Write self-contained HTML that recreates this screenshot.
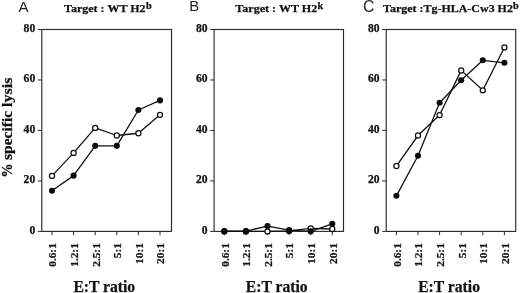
<!DOCTYPE html>
<html><head><meta charset="utf-8"><title>chart</title>
<style>html,body{margin:0;padding:0;background:#fff;}svg{display:block;will-change:transform;filter:grayscale(1);}</style></head>
<body>
<svg width="520" height="293" viewBox="0 0 520 293">
<rect width="520" height="293" fill="#fff"/>
<g font-family="Liberation Serif, serif" font-weight="bold" fill="#111" stroke="#111" stroke-width="0.25">
<rect x="41.8" y="29.5" width="129.70" height="201.90" fill="none" stroke="#2a2a2a" stroke-width="1.15"/>
<line x1="37.80" y1="231.40" x2="41.80" y2="231.40" stroke="#2a2a2a" stroke-width="1"/>
<text x="35.20" y="233.55" font-size="11.6" text-anchor="end">0</text>
<line x1="37.80" y1="180.93" x2="41.80" y2="180.93" stroke="#2a2a2a" stroke-width="1"/>
<text x="35.20" y="183.08" font-size="11.6" text-anchor="end">20</text>
<line x1="37.80" y1="130.45" x2="41.80" y2="130.45" stroke="#2a2a2a" stroke-width="1"/>
<text x="35.20" y="132.60" font-size="11.6" text-anchor="end">40</text>
<line x1="37.80" y1="79.97" x2="41.80" y2="79.97" stroke="#2a2a2a" stroke-width="1"/>
<text x="35.20" y="82.12" font-size="11.6" text-anchor="end">60</text>
<line x1="37.80" y1="29.50" x2="41.80" y2="29.50" stroke="#2a2a2a" stroke-width="1"/>
<text x="35.20" y="31.65" font-size="11.6" text-anchor="end">80</text>
<line x1="52.00" y1="231.4" x2="52.00" y2="235.20" stroke="#2a2a2a" stroke-width="1"/>
<text transform="translate(56.35,243.2) rotate(-90)" font-size="11.3" text-anchor="end">0.6:1</text>
<line x1="73.60" y1="231.4" x2="73.60" y2="235.20" stroke="#2a2a2a" stroke-width="1"/>
<text transform="translate(77.95,243.2) rotate(-90)" font-size="11.3" text-anchor="end">1.2:1</text>
<line x1="95.20" y1="231.4" x2="95.20" y2="235.20" stroke="#2a2a2a" stroke-width="1"/>
<text transform="translate(99.55,243.2) rotate(-90)" font-size="11.3" text-anchor="end">2.5:1</text>
<line x1="116.80" y1="231.4" x2="116.80" y2="235.20" stroke="#2a2a2a" stroke-width="1"/>
<text transform="translate(121.15,243.2) rotate(-90)" font-size="11.3" text-anchor="end">5:1</text>
<line x1="138.40" y1="231.4" x2="138.40" y2="235.20" stroke="#2a2a2a" stroke-width="1"/>
<text transform="translate(142.75,243.2) rotate(-90)" font-size="11.3" text-anchor="end">10:1</text>
<line x1="160.00" y1="231.4" x2="160.00" y2="235.20" stroke="#2a2a2a" stroke-width="1"/>
<text transform="translate(164.35,243.2) rotate(-90)" font-size="11.3" text-anchor="end">20:1</text>
<polyline fill="none" stroke="#111" stroke-width="1.3" stroke-linejoin="round" points="52.00,175.88 73.60,152.91 95.20,127.93 116.80,135.50 138.40,133.23 160.00,114.80"/>
<polyline fill="none" stroke="#111" stroke-width="1.3" stroke-linejoin="round" points="52.00,190.77 73.60,175.63 95.20,145.84 116.80,145.84 138.40,110.01 160.00,100.42"/>
<circle cx="52.00" cy="175.88" r="2.55" fill="#fff" stroke="#111" stroke-width="1.25"/>
<circle cx="73.60" cy="152.91" r="2.55" fill="#fff" stroke="#111" stroke-width="1.25"/>
<circle cx="95.20" cy="127.93" r="2.55" fill="#fff" stroke="#111" stroke-width="1.25"/>
<circle cx="116.80" cy="135.50" r="2.55" fill="#fff" stroke="#111" stroke-width="1.25"/>
<circle cx="138.40" cy="133.23" r="2.55" fill="#fff" stroke="#111" stroke-width="1.25"/>
<circle cx="160.00" cy="114.80" r="2.55" fill="#fff" stroke="#111" stroke-width="1.25"/>
<circle cx="52.00" cy="190.77" r="3.05" fill="#0a0a0a" stroke="none"/>
<circle cx="73.60" cy="175.63" r="3.05" fill="#0a0a0a" stroke="none"/>
<circle cx="95.20" cy="145.84" r="3.05" fill="#0a0a0a" stroke="none"/>
<circle cx="116.80" cy="145.84" r="3.05" fill="#0a0a0a" stroke="none"/>
<circle cx="138.40" cy="110.01" r="3.05" fill="#0a0a0a" stroke="none"/>
<circle cx="160.00" cy="100.42" r="3.05" fill="#0a0a0a" stroke="none"/>
<text x="64.0" y="12.3" font-size="11.3" textLength="81.6" lengthAdjust="spacingAndGlyphs">Target : WT H2</text>
<text x="146.0" y="9.1" font-size="9.5" textLength="5.7" lengthAdjust="spacingAndGlyphs">b</text>
<text x="73.4" y="292.2" font-size="16" textLength="61.8" lengthAdjust="spacingAndGlyphs">E:T ratio</text>
<rect x="214.1" y="29.5" width="129.40" height="201.90" fill="none" stroke="#2a2a2a" stroke-width="1.15"/>
<line x1="210.10" y1="231.40" x2="214.10" y2="231.40" stroke="#2a2a2a" stroke-width="1"/>
<text x="207.50" y="233.55" font-size="11.6" text-anchor="end">0</text>
<line x1="210.10" y1="180.93" x2="214.10" y2="180.93" stroke="#2a2a2a" stroke-width="1"/>
<text x="207.50" y="183.08" font-size="11.6" text-anchor="end">20</text>
<line x1="210.10" y1="130.45" x2="214.10" y2="130.45" stroke="#2a2a2a" stroke-width="1"/>
<text x="207.50" y="132.60" font-size="11.6" text-anchor="end">40</text>
<line x1="210.10" y1="79.97" x2="214.10" y2="79.97" stroke="#2a2a2a" stroke-width="1"/>
<text x="207.50" y="82.12" font-size="11.6" text-anchor="end">60</text>
<line x1="210.10" y1="29.50" x2="214.10" y2="29.50" stroke="#2a2a2a" stroke-width="1"/>
<text x="207.50" y="31.65" font-size="11.6" text-anchor="end">80</text>
<line x1="224.30" y1="231.4" x2="224.30" y2="235.20" stroke="#2a2a2a" stroke-width="1"/>
<text transform="translate(228.65,243.2) rotate(-90)" font-size="11.3" text-anchor="end">0.6:1</text>
<line x1="245.90" y1="231.4" x2="245.90" y2="235.20" stroke="#2a2a2a" stroke-width="1"/>
<text transform="translate(250.25,243.2) rotate(-90)" font-size="11.3" text-anchor="end">1.2:1</text>
<line x1="267.50" y1="231.4" x2="267.50" y2="235.20" stroke="#2a2a2a" stroke-width="1"/>
<text transform="translate(271.85,243.2) rotate(-90)" font-size="11.3" text-anchor="end">2.5:1</text>
<line x1="289.10" y1="231.4" x2="289.10" y2="235.20" stroke="#2a2a2a" stroke-width="1"/>
<text transform="translate(293.45,243.2) rotate(-90)" font-size="11.3" text-anchor="end">5:1</text>
<line x1="310.70" y1="231.4" x2="310.70" y2="235.20" stroke="#2a2a2a" stroke-width="1"/>
<text transform="translate(315.05,243.2) rotate(-90)" font-size="11.3" text-anchor="end">10:1</text>
<line x1="332.30" y1="231.4" x2="332.30" y2="235.20" stroke="#2a2a2a" stroke-width="1"/>
<text transform="translate(336.65,243.2) rotate(-90)" font-size="11.3" text-anchor="end">20:1</text>
<polyline fill="none" stroke="#111" stroke-width="1.3" stroke-linejoin="round" points="224.30,231.40 245.90,231.40 267.50,231.40 289.10,230.90 310.70,228.37 332.30,229.00"/>
<polyline fill="none" stroke="#111" stroke-width="1.3" stroke-linejoin="round" points="224.30,231.15 245.90,231.15 267.50,226.10 289.10,230.14 310.70,231.40 332.30,223.83"/>
<circle cx="224.30" cy="231.40" r="2.55" fill="#fff" stroke="#111" stroke-width="1.25"/>
<circle cx="245.90" cy="231.40" r="2.55" fill="#fff" stroke="#111" stroke-width="1.25"/>
<circle cx="267.50" cy="231.40" r="2.55" fill="#fff" stroke="#111" stroke-width="1.25"/>
<circle cx="289.10" cy="230.90" r="2.55" fill="#fff" stroke="#111" stroke-width="1.25"/>
<circle cx="310.70" cy="228.37" r="2.55" fill="#fff" stroke="#111" stroke-width="1.25"/>
<circle cx="332.30" cy="229.00" r="2.55" fill="#fff" stroke="#111" stroke-width="1.25"/>
<circle cx="224.30" cy="231.15" r="3.05" fill="#0a0a0a" stroke="none"/>
<circle cx="245.90" cy="231.15" r="3.05" fill="#0a0a0a" stroke="none"/>
<circle cx="267.50" cy="226.10" r="3.05" fill="#0a0a0a" stroke="none"/>
<circle cx="289.10" cy="230.14" r="3.05" fill="#0a0a0a" stroke="none"/>
<circle cx="310.70" cy="231.40" r="3.05" fill="#0a0a0a" stroke="none"/>
<circle cx="332.30" cy="223.83" r="3.05" fill="#0a0a0a" stroke="none"/>
<text x="235.3" y="12.3" font-size="11.3" textLength="82.0" lengthAdjust="spacingAndGlyphs">Target : WT H2</text>
<text x="317.6" y="9.1" font-size="9.5" textLength="5.7" lengthAdjust="spacingAndGlyphs">k</text>
<text x="245.8" y="291.59999999999997" font-size="16" textLength="61.8" lengthAdjust="spacingAndGlyphs">E:T ratio</text>
<rect x="386.2" y="29.5" width="129.50" height="201.90" fill="none" stroke="#2a2a2a" stroke-width="1.15"/>
<line x1="382.20" y1="231.40" x2="386.20" y2="231.40" stroke="#2a2a2a" stroke-width="1"/>
<text x="379.60" y="233.55" font-size="11.6" text-anchor="end">0</text>
<line x1="382.20" y1="180.93" x2="386.20" y2="180.93" stroke="#2a2a2a" stroke-width="1"/>
<text x="379.60" y="183.08" font-size="11.6" text-anchor="end">20</text>
<line x1="382.20" y1="130.45" x2="386.20" y2="130.45" stroke="#2a2a2a" stroke-width="1"/>
<text x="379.60" y="132.60" font-size="11.6" text-anchor="end">40</text>
<line x1="382.20" y1="79.97" x2="386.20" y2="79.97" stroke="#2a2a2a" stroke-width="1"/>
<text x="379.60" y="82.12" font-size="11.6" text-anchor="end">60</text>
<line x1="382.20" y1="29.50" x2="386.20" y2="29.50" stroke="#2a2a2a" stroke-width="1"/>
<text x="379.60" y="31.65" font-size="11.6" text-anchor="end">80</text>
<line x1="396.40" y1="231.4" x2="396.40" y2="235.20" stroke="#2a2a2a" stroke-width="1"/>
<text transform="translate(400.75,243.2) rotate(-90)" font-size="11.3" text-anchor="end">0.6:1</text>
<line x1="418.00" y1="231.4" x2="418.00" y2="235.20" stroke="#2a2a2a" stroke-width="1"/>
<text transform="translate(422.35,243.2) rotate(-90)" font-size="11.3" text-anchor="end">1.2:1</text>
<line x1="439.60" y1="231.4" x2="439.60" y2="235.20" stroke="#2a2a2a" stroke-width="1"/>
<text transform="translate(443.95,243.2) rotate(-90)" font-size="11.3" text-anchor="end">2.5:1</text>
<line x1="461.20" y1="231.4" x2="461.20" y2="235.20" stroke="#2a2a2a" stroke-width="1"/>
<text transform="translate(465.55,243.2) rotate(-90)" font-size="11.3" text-anchor="end">5:1</text>
<line x1="482.80" y1="231.4" x2="482.80" y2="235.20" stroke="#2a2a2a" stroke-width="1"/>
<text transform="translate(487.15,243.2) rotate(-90)" font-size="11.3" text-anchor="end">10:1</text>
<line x1="504.40" y1="231.4" x2="504.40" y2="235.20" stroke="#2a2a2a" stroke-width="1"/>
<text transform="translate(508.75,243.2) rotate(-90)" font-size="11.3" text-anchor="end">20:1</text>
<polyline fill="none" stroke="#111" stroke-width="1.3" stroke-linejoin="round" points="396.40,166.03 418.00,135.50 439.60,115.06 461.20,70.38 482.80,90.32 504.40,47.42"/>
<polyline fill="none" stroke="#111" stroke-width="1.3" stroke-linejoin="round" points="396.40,195.82 418.00,155.69 439.60,102.69 461.20,80.23 482.80,60.29 504.40,62.81"/>
<circle cx="396.40" cy="166.03" r="2.55" fill="#fff" stroke="#111" stroke-width="1.25"/>
<circle cx="418.00" cy="135.50" r="2.55" fill="#fff" stroke="#111" stroke-width="1.25"/>
<circle cx="439.60" cy="115.06" r="2.55" fill="#fff" stroke="#111" stroke-width="1.25"/>
<circle cx="461.20" cy="70.38" r="2.55" fill="#fff" stroke="#111" stroke-width="1.25"/>
<circle cx="482.80" cy="90.32" r="2.55" fill="#fff" stroke="#111" stroke-width="1.25"/>
<circle cx="504.40" cy="47.42" r="2.55" fill="#fff" stroke="#111" stroke-width="1.25"/>
<circle cx="396.40" cy="195.82" r="3.05" fill="#0a0a0a" stroke="none"/>
<circle cx="418.00" cy="155.69" r="3.05" fill="#0a0a0a" stroke="none"/>
<circle cx="439.60" cy="102.69" r="3.05" fill="#0a0a0a" stroke="none"/>
<circle cx="461.20" cy="80.23" r="3.05" fill="#0a0a0a" stroke="none"/>
<circle cx="482.80" cy="60.29" r="3.05" fill="#0a0a0a" stroke="none"/>
<circle cx="504.40" cy="62.81" r="3.05" fill="#0a0a0a" stroke="none"/>
<text x="383.1" y="12.3" font-size="11.3" textLength="129.8" lengthAdjust="spacingAndGlyphs">Target :Tg-HLA-Cw3 H2</text>
<text x="513.0" y="9.1" font-size="9.5" textLength="5.7" lengthAdjust="spacingAndGlyphs">b</text>
<text x="418.2" y="292.0" font-size="16" textLength="61.8" lengthAdjust="spacingAndGlyphs">E:T ratio</text>
<text transform="translate(12.1,106.9) rotate(-90)" font-size="15.6" textLength="29.3" lengthAdjust="spacingAndGlyphs">lysis</text>
<text transform="translate(12.1,159.9) rotate(-90)" font-size="15.6" textLength="49.0" lengthAdjust="spacingAndGlyphs">specific</text>
<text transform="translate(12.1,177.7) rotate(-90)" font-size="15.6" textLength="14.3" lengthAdjust="spacingAndGlyphs">%</text>
</g>
<g font-family="Liberation Sans, sans-serif" fill="#222">
<text x="18.4" y="11.6" font-size="15.0">A</text>
<text x="189.3" y="11.4" font-size="14.9">B</text>
<text x="363.0" y="11.8" font-size="15.8">C</text>
</g>
</svg>
</body></html>
